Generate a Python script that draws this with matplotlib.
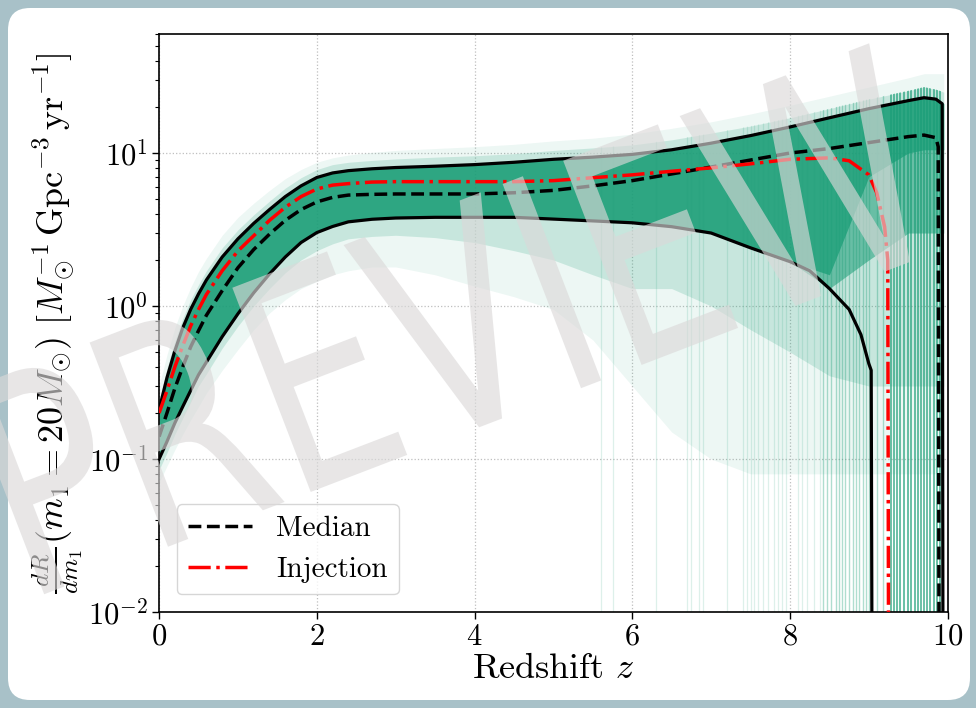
import matplotlib.pyplot as plt
import numpy as np
from matplotlib.patches import FancyBboxPatch, PathPatch
from matplotlib.textpath import TextPath
from matplotlib.font_manager import FontProperties
from matplotlib.transforms import Affine2D, IdentityTransform
from matplotlib.path import Path
from matplotlib.ticker import FuncFormatter, LogLocator, NullFormatter

plt.rcParams['font.family'] = 'serif'
plt.rcParams['font.serif'] = ['cmr10']
plt.rcParams['mathtext.fontset'] = 'cm'
plt.rcParams['axes.unicode_minus'] = False

GREEN = '#1b9e77'

# percentile / median / injection curves
z_grid = [0, 0.1, 0.2, 0.3, 0.4, 0.5, 0.6, 0.8, 1.0, 1.2, 1.4, 1.6, 1.8, 2.0,
          2.2, 2.4, 2.7, 3.0, 3.5, 4.0, 4.5, 5.0, 5.5, 6.0, 6.5, 7.0, 7.5,
          8.0, 8.5, 9.0, 9.5, 9.7, 9.85]

upper_z = z_grid + [9.93, 9.94]
upper_r = [0.21, 0.34, 0.51, 0.72, 0.95, 1.2, 1.48, 2.09, 2.75, 3.47, 4.27,
           5.19, 6.1, 6.92, 7.41, 7.67, 7.89, 8.04, 8.2, 8.4, 8.7, 9.1, 9.4,
           9.8, 10.5, 11.6, 13.0, 14.8, 17.0, 19.5, 22.0, 23.0, 22.5, 21.0, 0.005]

median_z = z_grid + [9.88, 9.89]
median_r = [0.14, 0.2, 0.29, 0.4, 0.54, 0.69, 0.87, 1.26, 1.78, 2.34, 2.95,
            3.63, 4.27, 4.79, 5.13, 5.31, 5.37, 5.4, 5.4, 5.4, 5.5, 5.7, 6.1,
            6.6, 7.3, 8.1, 9.0, 10.0, 10.7, 11.7, 12.8, 13.1, 12.6, 11.0, 0.005]

lower_z = [0, 0.1, 0.2, 0.3, 0.4, 0.5, 0.6, 0.8, 1.0, 1.2, 1.4, 1.6, 1.8, 2.0,
           2.2, 2.4, 2.7, 3.0, 3.5, 4.0, 4.5, 5.0, 5.5, 6.0, 6.5, 7.0, 7.5,
           8.0, 8.25, 8.5, 8.75, 8.9, 9.0, 9.03, 9.04]
lower_r = [0.1, 0.13, 0.172, 0.22, 0.28, 0.355, 0.43, 0.63, 0.89, 1.22, 1.62,
           2.09, 2.6, 3.02, 3.31, 3.55, 3.69, 3.76, 3.8, 3.8, 3.8, 3.7, 3.6,
           3.5, 3.3, 3.0, 2.4, 1.95, 1.7, 1.3, 0.95, 0.65, 0.42, 0.38, 0.005]

inj_z = [0, 0.1, 0.2, 0.3, 0.4, 0.5, 0.6, 0.8, 1.0, 1.2, 1.4, 1.6, 1.8, 2.0,
         2.2, 2.4, 2.7, 3.0, 3.5, 4.0, 4.5, 5.0, 5.5, 6.0, 6.5, 7.0, 7.5,
         8.0, 8.5, 8.75, 9.0, 9.1, 9.2, 9.24, 9.25]
inj_r = [0.2, 0.28, 0.4, 0.55, 0.74, 0.95, 1.19, 1.7, 2.29, 2.88, 3.63, 4.42,
         5.19, 5.82, 6.17, 6.31, 6.46, 6.5, 6.5, 6.5, 6.5, 6.6, 6.9, 7.2, 7.6,
         8.0, 8.5, 9.1, 9.3, 8.9, 7.2, 5.5, 3.3, 2.0, 0.005]

# extent of the posterior draws (green band), on z_grid plus the right edge
z_env = z_grid + [9.95]
outer_hi = [0.3, 0.48, 0.72, 1.0, 1.32, 1.68, 2.05, 2.9, 3.8, 4.7, 5.7, 6.8,
            7.8, 8.7, 9.3, 9.7, 10.1, 10.4, 10.7, 11.0, 11.4, 12.0, 12.5, 13.3,
            14.5, 16.0, 18.0, 20.5, 23.5, 27.0, 31.0, 33.0, 33.0, 33.0]
mid_hi = [0.24, 0.39, 0.59, 0.83, 1.1, 1.38, 1.7, 2.4, 3.15, 3.95, 4.85, 5.9,
          6.9, 7.8, 8.4, 8.7, 8.95, 9.15, 9.4, 9.6, 9.9, 10.4, 10.8, 11.3,
          12.2, 13.5, 15.0, 17.0, 19.5, 22.5, 25.5, 27.0, 26.0, 25.0]
band_hi = [0.21, 0.34, 0.51, 0.72, 0.95, 1.2, 1.48, 2.09, 2.75, 3.47, 4.27,
           5.19, 6.1, 6.92, 7.41, 7.67, 7.89, 8.04, 8.2, 8.4, 8.7, 9.1, 9.4,
           9.8, 10.5, 11.6, 13.0, 14.8, 17.0, 19.5, 22.0, 23.0, 22.5, 21.0]
band_lo = [0.1, 0.13, 0.172, 0.22, 0.28, 0.355, 0.43, 0.63, 0.89, 1.22, 1.62,
           2.09, 2.6, 3.02, 3.31, 3.55, 3.69, 3.76, 3.8, 3.8, 3.8, 3.7, 3.6,
           3.5, 3.3, 3.0, 2.4, 1.95, 1.3, 2.0, 3.0, 3.0, 3.0, 3.0]
core_lo = [0.1, 0.13, 0.172, 0.22, 0.28, 0.355, 0.43, 0.63, 0.89, 1.22, 1.62,
           2.09, 2.6, 3.02, 3.31, 3.55, 3.69, 3.76, 3.8, 3.8, 3.8, 3.7, 3.6,
           3.5, 3.3, 3.0, 2.4, 1.95, 1.6, 7.0, 10.0, 10.5, 10.5, 10.5]
fan_near = [0.085, 0.11, 0.145, 0.185, 0.235, 0.3, 0.36, 0.53, 0.74, 1.0, 1.3,
            1.65, 2.0, 2.3, 2.55, 2.75, 2.85, 2.9, 2.8, 2.6, 2.3, 2.0, 1.6,
            1.3, 1.3, 1.0, 0.7, 0.5, 0.35, 0.3, 0.3, 0.3, 0.3, 0.3]
fan_far = [0.07, 0.09, 0.115, 0.145, 0.18, 0.22, 0.27, 0.38, 0.52, 0.7, 0.9,
           1.1, 1.3, 1.45, 1.6, 1.7, 1.8, 1.8, 1.6, 1.35, 1.15, 0.95, 0.6,
           0.3, 0.15, 0.1, 0.08, 0.08, 0.08, 0.08, 0.08, 0.08, 0.08, 0.08]

# redshifts where individual draws drop to zero
faint_cuts = [5.6, 5.75, 6.3, 6.7, 6.75, 6.85, 6.9, 7.2, 7.4, 7.45, 7.5, 7.55,
              7.6, 7.66, 7.72, 7.8, 7.85, 7.9, 7.95, 8.1, 8.15, 8.22, 8.3, 8.38]
mid_cuts = [8.42, 8.47, 8.52, 8.58, 8.62, 8.66, 8.7, 8.75, 8.8, 8.84, 8.88,
            8.92, 8.96, 9.0, 9.1, 9.18]
strong_cuts = [9.28, 9.32, 9.36, 9.4, 9.45, 9.5, 9.54, 9.58, 9.62, 9.66, 9.7,
               9.74, 9.78, 9.82, 9.86, 9.9]

fig = plt.figure(figsize=(9.76, 7.08), dpi=100)
fig.patch.set_facecolor('#a8c1c8')
panel = FancyBboxPatch((8, 8), 962, 692, boxstyle='round,pad=0,rounding_size=22',
                       transform=IdentityTransform(), facecolor='white',
                       edgecolor='none', zorder=-5)
fig.add_artist(panel)

ax = fig.add_axes([0.163, 0.1356, 0.808, 0.8164])
ax.set_yscale('log')
ax.set_xlim(0, 10)
ax.set_ylim(1e-2, 60)
ax.set_axisbelow(True)
ax.grid(True, which='major', ls=':', color='0.75', lw=0.9)

ax.fill_between(z_env, fan_far, outer_hi, color=GREEN, alpha=0.08, lw=0)
ax.fill_between(z_env, fan_near, mid_hi, color=GREEN, alpha=0.18, lw=0)
ax.fill_between(z_env, band_lo, band_hi, color=GREEN, alpha=0.55, lw=0)
ax.fill_between(z_env, core_lo, band_hi, color=GREEN, alpha=0.75, lw=0)

clip = Path(list(zip(z_env, mid_hi)) + [(9.95, 0.005), (0, 0.005), (0, mid_hi[0])],
            closed=True)
for cuts, a, w in [(faint_cuts, 0.15, 0.9), (mid_cuts, 0.35, 1.0), (strong_cuts, 0.7, 1.3)]:
    vl = ax.vlines(cuts, 0.005, 100, colors=GREEN, alpha=a, lw=w, zorder=2)
    vl.set_clip_path(clip, ax.transData)

ax.plot(upper_z, upper_r, color='black', lw=2.3, zorder=3)
ax.plot(lower_z, lower_r, color='black', lw=2.3, zorder=3)
ax.plot(median_z, median_r, color='black', lw=2.5, ls='--', zorder=4, label='Median')
ax.plot(inj_z, inj_r, color='red', lw=2.5, ls='-.', zorder=4, label='Injection')

ax.set_xticks([0, 2, 4, 6, 8, 10])
ax.xaxis.set_major_formatter(FuncFormatter(lambda v, p: r'$%d$' % v))
ax.yaxis.set_major_locator(LogLocator(base=10, numticks=10))
ax.yaxis.set_minor_locator(LogLocator(base=10, subs=np.arange(2, 10), numticks=20))
ax.yaxis.set_minor_formatter(NullFormatter())
ax.yaxis.set_major_formatter(FuncFormatter(lambda v, p: r'$10^{%d}$' % round(np.log10(v))))
ax.tick_params(which='major', direction='out', length=5, width=1, labelsize=22, pad=3)
ax.tick_params(which='minor', direction='out', length=3, width=0.8)
for s in ax.spines.values():
    s.set_linewidth(1.2)

ax.set_xlabel('Redshift $z$', fontsize=26, labelpad=2)
ax.set_ylabel(r'$\frac{dR}{dm_1}(m_1=20M_{\odot})\ [M_{\odot}^{-1}\,\mathrm{Gpc}^{-3}\,\mathrm{yr}^{-1}]$',
              fontsize=26, labelpad=2)

leg = ax.legend(loc='lower left', fontsize=21, handlelength=2.2, borderaxespad=0.6,
                framealpha=0.8, edgecolor='0.8')
leg.set_zorder(6)

# watermark
tp = TextPath((0, 0), 'PREVIEW', size=100, prop=FontProperties(family='DejaVu Sans'))
wm = Affine2D().scale(2.2, 3.0).rotate_deg(21).translate(24, 106)
patch = PathPatch(wm.transform_path(tp), transform=IdentityTransform(),
                  facecolor=(0.86, 0.85, 0.85), edgecolor='none', alpha=0.64, zorder=20)
fig.add_artist(patch)

fig.savefig('out.png', dpi=100, facecolor=fig.get_facecolor())
